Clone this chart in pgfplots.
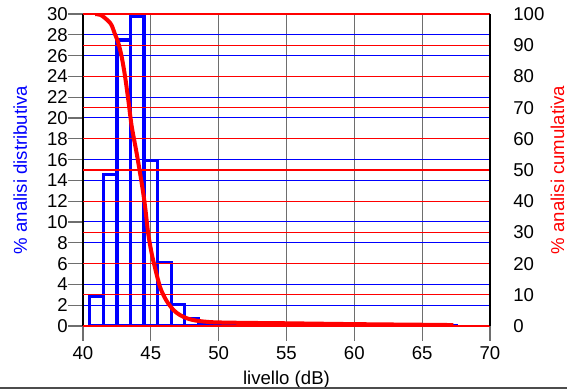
\documentclass[border=0pt]{standalone}
\usepackage{pgfplots}
\pgfplotsset{compat=1.18}
\usepackage{fontspec}
\setmainfont{Liberation Sans}
\definecolor{maroonl}{RGB}{140,0,60}
\definecolor{tickgray}{RGB}{110,110,110}
\begin{document}
\fontsize{18.6bp}{22bp}\selectfont
\begin{tikzpicture}
\useasboundingbox (-83bp,-64bp) rectangle (484bp,326bp);
\begin{axis}[
  at={(0,0)}, anchor=south west,
  scale only axis, width=407bp, height=312bp,
  xmin=40, xmax=70, ymin=0, ymax=30,
  xtick={40,45,...,70}, ytick={0,2,...,30},
  /pgf/number format/assume math mode=true,
  tick align=outside, major tick length=14.5bp,
  xtick pos=bottom, ytick pos=left,
  tick style={tickgray, line width=1.2bp},
  xmajorgrids, ymajorgrids,
  x grid style={tickgray, line width=1.2bp},
  y grid style={blue, line width=1bp},
  separate axis lines,
  x axis line style={maroonl, line width=1.2bp},
  y axis line style={black, line width=1.2bp},
  yticklabel style={inner xsep=0.5bp},
  xlabel={livello (dB)},
  ylabel={\% analisi distributiva},
  every axis x label/.style={at={(rel axis cs:0.5,-0.1859)}, anchor=base},
  every axis y label/.style={at={(rel axis cs:-0.1376,0.5)}, rotate=90, anchor=base, text=blue},
]
\addplot[ybar interval, draw=blue, fill=none, line width=3.2bp] coordinates {
(40.5,2.8) (41.5,14.6) (42.5,27.5) (43.5,29.8) (44.5,15.9) (45.5,6.1) (46.5,2.1) (47.5,0.75) (48.5,0.35)
(49.5,0.05) (50.5,0.05) (51.5,0.05) (52.5,0.05) (53.5,0.05) (54.5,0.05) (55.5,0.05) (56.5,0.05) (57.5,0.05)
(58.5,0.05) (59.5,0.05) (60.5,0.05) (61.5,0.05) (62.5,0.05) (63.5,0.05) (64.5,0.05) (65.5,0.05) (66.5,0.05) (67.5,0.05)
};
\end{axis}
\begin{axis}[
  at={(0,0)}, anchor=south west,
  scale only axis, width=407bp, height=312bp,
  xmin=40, xmax=70, ymin=0, ymax=100,
  hide x axis, axis y line*=right,
  ytick={0,10,...,100},
  ymajorgrids,
  y grid style={draw=red, line width=1.1bp},
  /pgf/number format/assume math mode=true,
  major tick length=0pt,
  yticklabel style={anchor=west, xshift=17bp},
  y axis line style={black, line width=1.2bp},
  ylabel={\% analisi cumulativa},
  every axis y label/.style={at={(rel axis cs:1.182,0.5)}, rotate=90, anchor=base, text=red},
]
\addplot[red, line width=4bp, smooth, tension=0.5] coordinates {
(40.9,100) (41.3,99.7) (41.62,98.7) (41.9,97.6) (42.11,96.4) (42.36,93.5) (42.6,90.8) (42.85,86.3)
(43.1,80) (43.34,72.4) (43.59,64) (43.95,55.5) (44.32,46) (44.57,38.5) (44.81,29.5) (45.06,23.3)
(45.3,18.8) (45.67,12.6) (46.0,9.3) (46.29,7.2) (46.7,5) (47.15,3.5) (47.7,2.4) (48.38,1.7)
(49.6,1.2) (52,1.0) (54.5,0.9) (60,0.6) (65,0.4) (67.3,0.3)
};
\end{axis}
\draw[gray!60!black, line width=1.5bp] (-83bp,-62bp) -- (484bp,-62bp);
\end{tikzpicture}
\end{document}
